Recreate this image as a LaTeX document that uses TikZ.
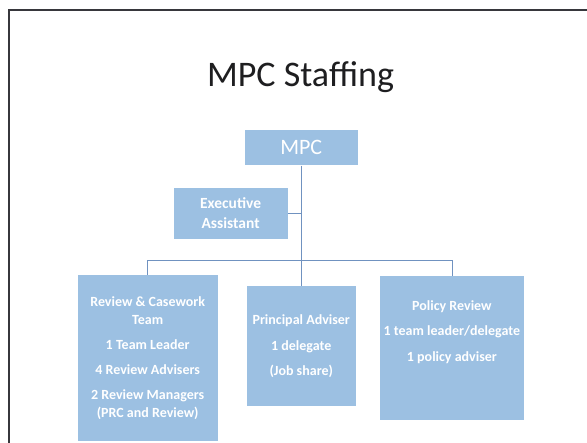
\documentclass[tikz,border=0pt]{standalone}
\usepackage{fontspec}
\setmainfont{Carlito}
\definecolor{boxblue}{RGB}{156,192,226}
\definecolor{linkblue}{RGB}{112,146,192}
\definecolor{framegray}{RGB}{55,55,60}
\definecolor{titleink}{RGB}{30,30,32}
\begin{document}
\begin{tikzpicture}[x=1pt,y=-1pt,
  orgbox/.style={rectangle,fill=boxblue,draw=none,inner sep=0pt,align=center,text=white},
  boxtext/.style={font=\bfseries\fontsize{14}{18}\selectfont},
  link/.style={draw=linkblue,line width=0.8pt}]
\useasboundingbox (0,0) rectangle (587,443);
\fill[white] (0,0) rectangle (587,443);
% slide frame
\draw[framegray,line width=2pt] (8.5,443) -- (8.5,10) -- (587,10);
% title
\node[font=\fontsize{36}{40}\selectfont,text=titleink,anchor=base] (title) at (300.5,87) {MPC Staffing};
% boxes
\node[orgbox,minimum width=113.5pt,minimum height=35.5pt,font=\fontsize{22}{26}\selectfont] (mpc) at (301.25,147.75) {MPC};
\node[orgbox,minimum width=114pt,minimum height=50.6pt,font=\bfseries\fontsize{15.5}{20}\selectfont] (exec) at (230.6,213.6) {Executive\\Assistant};
\node[orgbox,boxtext,minimum width=140.4pt,minimum height=165.5pt] (rc) at (147.7,358) {Review \& Casework\\Team\\[7pt]1 Team Leader\\[7pt]4 Review Advisers\\[7pt]2 Review Managers\\(PRC and Review)};
\node[orgbox,boxtext,minimum width=108.5pt,minimum height=119.8pt] (pa) at (301.25,346.3) {Principal Adviser\\[7.4pt]1 delegate\\[7.4pt](Job share)};
\node[orgbox,minimum width=143.8pt,minimum height=144pt] (pr) at (451.9,348) {};
\node[boxtext,text=white,align=center,anchor=north] (prtext) at (451.9,297.5) {Policy Review\\[7pt]1 team leader/delegate\\[7.5pt]1 policy adviser};
% connectors
\draw[link] (mpc.south) -- (pa.north);
\draw[link] (exec.east) -- (exec.east -| mpc.south);
\draw[link] (rc.north) -- ++(0,-15) -| (pr.north);
\end{tikzpicture}
\end{document}
